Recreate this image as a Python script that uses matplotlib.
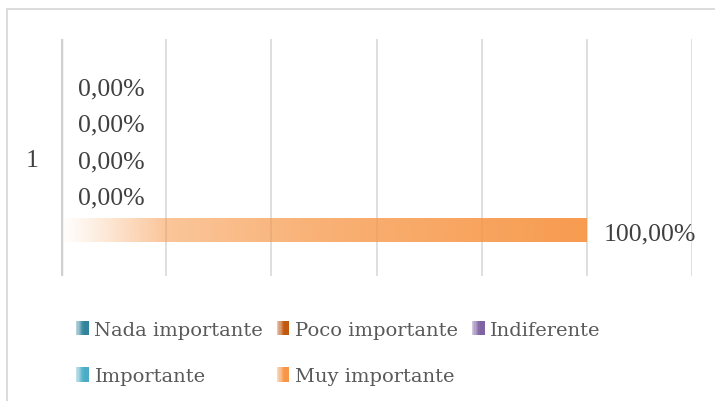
import numpy as np
import matplotlib
matplotlib.use("Agg")
import matplotlib.pyplot as plt
from matplotlib.patches import Rectangle
from matplotlib.legend_handler import HandlerBase
from matplotlib.colors import to_rgb

categories = ["1"]
series_names = ["Nada importante", "Poco importante", "Indiferente", "Importante", "Muy importante"]
series_values = [[0.0], [0.0], [0.0], [0.0], [1.0]]
series_colors = ["#31849B", "#C0580F", "#8064A2", "#4BACC6", "#F79646"]
x_ticks = [0.0, 0.2, 0.4, 0.6, 0.8, 1.0, 1.2]

plt.rcParams['font.family'] = ['Liberation Serif', 'DejaVu Serif']

W, H = 715, 402
fig = plt.figure(figsize=(W / 100, H / 100), dpi=100)
ax = fig.add_axes([61 / W, 1 - 277 / H, (692 - 61) / W, (277 - 40) / H])

# outer chart border
fig.patches.append(Rectangle((7 / W, -0.1), 1.2, 1.1 - 10 / H,
                             transform=fig.transFigure, fill=False,
                             edgecolor="#D9D9D9", linewidth=1.3))

n = len(series_names)
spacing = 0.152
bar_h = 0.101
y_base = np.arange(len(categories))

def alpha_profile(t):
    return np.interp(t, [0.0, 0.05, 0.2, 0.5, 1.0], [0.0, 0.12, 0.55, 0.75, 0.95])

for i, (name, vals, col) in enumerate(zip(series_names, series_values, series_colors)):
    offset = (n - 1) / 2 * spacing - i * spacing
    ypos = y_base + offset
    cont = ax.barh(ypos, vals, height=bar_h, facecolor="none", edgecolor="none",
                   label=name, zorder=3)
    for patch in cont.patches:
        x0, y0 = patch.get_x(), patch.get_y()
        w, h = patch.get_width(), patch.get_height()
        if w <= 0:
            continue
        t = np.linspace(0, 1, 512)
        rgba = np.zeros((1, 512, 4))
        rgba[..., :3] = to_rgb(col)
        rgba[..., 3] = alpha_profile(t)
        im = ax.imshow(rgba, extent=[x0, x0 + w, y0, y0 + h], aspect="auto",
                       interpolation="bilinear", zorder=3, origin="lower")
        im.set_clip_path(patch)
    labels = [f"{v * 100:.2f}%".replace(".", ",") for v in vals]
    anns = ax.bar_label(cont, labels=labels, padding=12, fontsize=18.5, color="#404040")
    for a in anns:
        a.xyann = (12, -2.5)

ax.set_xlim(x_ticks[0], x_ticks[-1])
ax.set_ylim(-0.5, 0.5)
ax.set_xticks(x_ticks)
ax.set_xticklabels([])
ax.tick_params(axis="x", length=0)
ax.set_yticks(y_base)
ax.set_yticklabels(categories, fontsize=18.5, color="#404040")
ax.tick_params(axis="y", length=0, pad=16)
ax.grid(axis="x", color="#D9D9D9", linewidth=1.2, zorder=0)
ax.set_axisbelow(True)
for s in ax.spines.values():
    s.set_visible(False)
ax.axvline(0, color="#D0D0D0", linewidth=2.5, zorder=4)


class GradHandler(HandlerBase):
    def create_artists(self, legend, orig_handle, xdescent, ydescent, width, height,
                       fontsize, trans):
        col = orig_handle._grad_color
        arts = []
        k = 10
        for j in range(k):
            a = 0.3 + 0.7 * min(1.0, (j + 0.5) / (k * 0.6))
            r = Rectangle((-xdescent + j * width / k, -ydescent), width / k + 0.01, height,
                          facecolor=col, alpha=a, edgecolor="none", transform=trans)
            arts.append(r)
        return arts


handles = []
for name, col in zip(series_names, series_colors):
    r = Rectangle((0, 0), 1, 1, facecolor=col)
    r._grad_color = col
    handles.append(r)
order = [0, 3, 1, 4, 2]
leg = fig.legend([handles[k] for k in order], [series_names[k] for k in order],
                 ncol=3, loc="upper left", bbox_to_anchor=(76 / W, 1 - 322 / H),
                 frameon=False, borderpad=0, borderaxespad=0,
                 prop={'family': 'DejaVu Serif', 'size': 14},
                 handlelength=0.65, handleheight=0.75,
                 handletextpad=0.3, columnspacing=0.7, labelspacing=1.45,
                 handler_map={Rectangle: GradHandler()}, labelcolor="#595959")

fig.savefig("out.png", dpi=100)
